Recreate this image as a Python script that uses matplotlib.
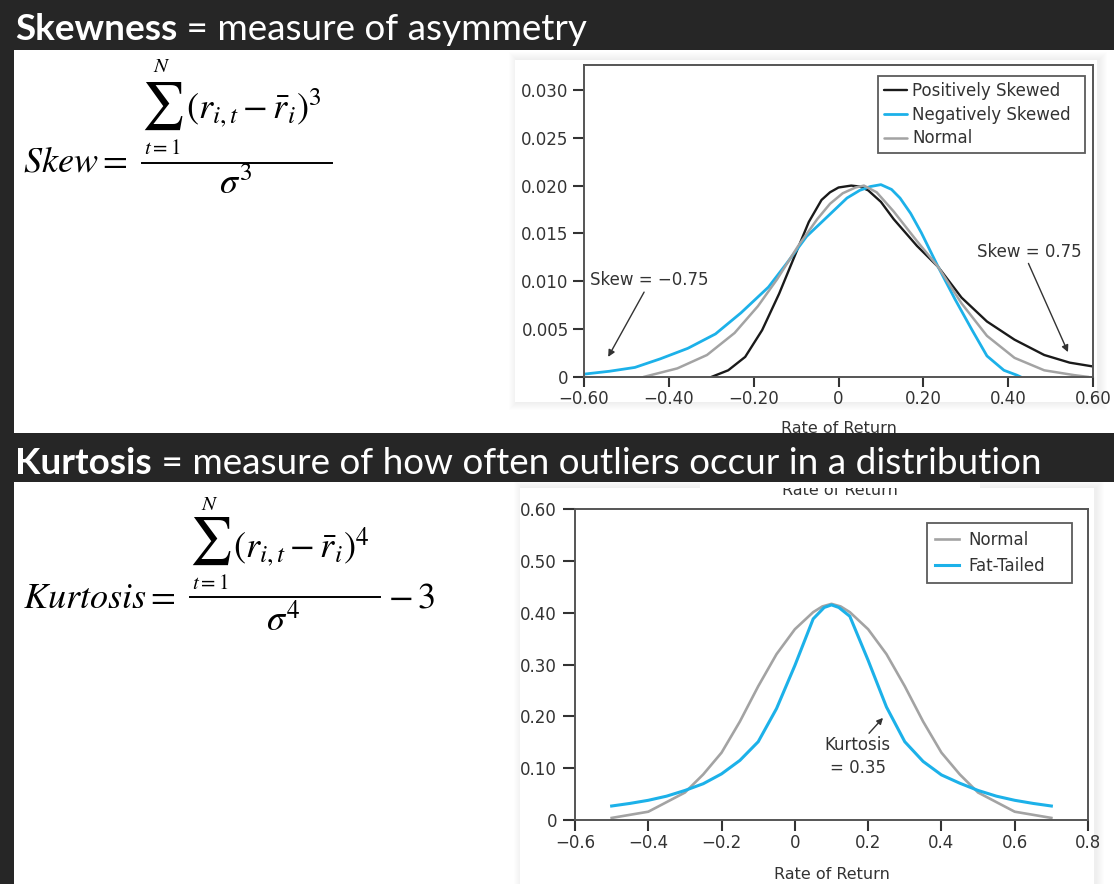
import matplotlib
matplotlib.use('Agg')
import matplotlib.pyplot as plt
from matplotlib.patches import Rectangle
from matplotlib.lines import Line2D

# ---------------- data ----------------
skew_xticks = [-0.60, -0.40, -0.20, 0.0, 0.20, 0.40, 0.60]
skew_xlabels = ['\u22120.60', '\u22120.40', '\u22120.20', '0', '0.20', '0.40', '0.60']
skew_yticks = [0.0, 0.005, 0.010, 0.015, 0.020, 0.025, 0.030]
skew_ylabels = ['0', '0.005', '0.010', '0.015', '0.020', '0.025', '0.030']

pos_x = [-0.30, -0.26, -0.22, -0.18, -0.14, -0.10, -0.07, -0.04, -0.02, 0.00, 0.03, 0.05, 0.07,
         0.10, 0.13, 0.185, 0.235, 0.29, 0.35, 0.415, 0.485, 0.545, 0.60]
pos_y = [0.0, 0.0007, 0.0021, 0.0049, 0.0087, 0.0130, 0.0162, 0.0185, 0.0193, 0.0198, 0.0200, 0.0199, 0.0195,
         0.0183, 0.0165, 0.0137, 0.0115, 0.0083, 0.0058, 0.0039, 0.0023, 0.0015, 0.0011]

neg_x = [-0.60, -0.54, -0.48, -0.42, -0.355, -0.29, -0.23, -0.165, -0.12, -0.075, -0.025,
         0.02, 0.05, 0.075, 0.10, 0.125, 0.145, 0.17, 0.195, 0.235, 0.275, 0.315, 0.35, 0.39, 0.42, 0.43]
neg_y = [0.0003, 0.0006, 0.0010, 0.0019, 0.0030, 0.0045, 0.0067, 0.0094, 0.0120, 0.0147, 0.0168,
         0.0187, 0.0195, 0.0199, 0.0201, 0.0196, 0.0187, 0.0171, 0.0151, 0.0115, 0.0081, 0.0049,
         0.0022, 0.0007, 0.0002, 0.0]

norm_x = [-0.46, -0.38, -0.31, -0.245, -0.19, -0.145, -0.095, -0.05, -0.02, 0.01, 0.04, 0.06,
          0.09, 0.13, 0.185, 0.235, 0.29, 0.35, 0.415, 0.485, 0.555, 0.59]
norm_y = [0.0, 0.0009, 0.0023, 0.0046, 0.0074, 0.0102, 0.0137, 0.0165, 0.0181, 0.0192, 0.0198, 0.0200,
          0.0193, 0.0173, 0.0142, 0.0115, 0.0077, 0.0043, 0.0020, 0.0007, 0.0002, 0.0]

kurt_xticks = [-0.6, -0.4, -0.2, 0.0, 0.2, 0.4, 0.6, 0.8]
kurt_xlabels = ['\u22120.6', '\u22120.4', '\u22120.2', '0', '0.2', '0.4', '0.6', '0.8']
kurt_yticks = [0.0, 0.10, 0.20, 0.30, 0.40, 0.50, 0.60]
kurt_ylabels = ['0', '0.10', '0.20', '0.30', '0.40', '0.50', '0.60']

kn_x = [-0.50, -0.40, -0.30, -0.25, -0.20, -0.15, -0.10, -0.05, 0.00, 0.05, 0.075, 0.10,
        0.125, 0.15, 0.20, 0.25, 0.30, 0.35, 0.40, 0.45, 0.50, 0.60, 0.70]
kn_y = [0.004, 0.016, 0.053, 0.088, 0.130, 0.190, 0.258, 0.320, 0.368, 0.401, 0.412, 0.417,
        0.412, 0.401, 0.368, 0.320, 0.258, 0.190, 0.130, 0.088, 0.053, 0.016, 0.004]

kf_x = [-0.50, -0.45, -0.40, -0.35, -0.30, -0.25, -0.20, -0.15, -0.10, -0.05, 0.00, 0.05, 0.08,
        0.10, 0.12, 0.15, 0.20, 0.25, 0.30, 0.35, 0.40, 0.45, 0.50, 0.55, 0.60, 0.65, 0.70]
kf_y = [0.027, 0.032, 0.038, 0.046, 0.057, 0.070, 0.089, 0.115, 0.151, 0.215, 0.298, 0.388, 0.410,
        0.415, 0.410, 0.393, 0.308, 0.218, 0.151, 0.113, 0.087, 0.071, 0.057, 0.046, 0.038, 0.032, 0.027]

# ---------------- figure ----------------
W, H = 1114, 884
fig = plt.figure(figsize=(W / 100, H / 100), dpi=100, facecolor='white')
plt.rcParams['mathtext.fontset'] = 'stix'


def fx(px):
    return px / W


def fy(py):
    return 1 - py / H


DARK = '#262626'
BLUE = '#1cb1e9'
GRAY = '#a3a3a3'
BLACK = '#1a1a1a'
TXT = '#333333'
CHART_FONT = 'DejaVu Sans'


def card(x0, y0, x1, y1):
    # white chart card with a faint soft shadow (pixel coords, y down)
    for i in range(8, 0, -1):
        r = Rectangle((fx(x0 - i + 2), fy(y1 + i)), (x1 - x0 + 2 * i) / W, (y1 - y0 + 2 * i) / H,
                      transform=fig.transFigure, facecolor='black', alpha=0.007,
                      edgecolor='none', zorder=-2)
        fig.add_artist(r)
    fig.add_artist(Rectangle((fx(x0), fy(y1)), (x1 - x0) / W, (y1 - y0) / H,
                             transform=fig.transFigure, facecolor='white',
                             edgecolor='none', zorder=-1))


def style_axes(ax, ylen, ypad, xlen, xpad):
    for s in ax.spines.values():
        s.set_color('#555555')
        s.set_linewidth(1.4)
    ax.tick_params(axis='y', direction='out', length=ylen, width=1.5, color=TXT,
                   labelsize=12, labelcolor=TXT, pad=ypad)
    ax.tick_params(axis='x', direction='out', length=xlen, width=1.5, color=TXT,
                   labelsize=12, labelcolor=TXT, pad=xpad)
    for lab in ax.get_xticklabels() + ax.get_yticklabels():
        lab.set_family(CHART_FONT)


# ---- top chart (skewness) ----
card(515, 60, 1097, 402)
ax1 = fig.add_axes([fx(584), fy(377), (1093 - 584) / W, (377 - 65) / H])
ax1.plot(pos_x, pos_y, color=BLACK, lw=1.7, label='Positively Skewed', solid_capstyle='round')
ax1.plot(neg_x, neg_y, color=BLUE, lw=2.0, label='Negatively Skewed', solid_capstyle='round')
ax1.plot(norm_x, norm_y, color=GRAY, lw=1.8, label='Normal', solid_capstyle='round')
ax1.set_xlim(-0.6, 0.6)
ax1.set_ylim(0, 0.0326)
ax1.set_xticks(skew_xticks)
ax1.set_xticklabels(skew_xlabels)
ax1.set_yticks(skew_yticks)
ax1.set_yticklabels(skew_ylabels)
style_axes(ax1, 8, 3, 7, 2)
ax1.set_xlabel('Rate of Return', fontsize=11.5, color=TXT, labelpad=10, family=CHART_FONT)
leg1 = ax1.legend(loc='upper left', bbox_to_anchor=(0.578, 0.5, 0.407, 0.465), mode='expand',
                  frameon=True, fancybox=False, edgecolor='#333333', borderpad=0.35,
                  handlelength=1.4, handletextpad=0.3, labelspacing=0.35, borderaxespad=0,
                  prop={'family': CHART_FONT, 'size': 12})
leg1.get_frame().set_linewidth(1.3)
for t in leg1.get_texts():
    t.set_color(TXT)

ax1.annotate('Skew = \u22120.75', xy=(-0.543, 0.0021), xytext=(-0.586, 0.0101),
             fontsize=12, color=TXT, va='center', ha='left', family=CHART_FONT,
             arrowprops=dict(arrowstyle='-|>', color=TXT, lw=1.0, mutation_scale=10,
                             shrinkA=0, shrinkB=0, relpos=(0.47, 0.0)))
ax1.annotate('Skew = 0.75', xy=(0.541, 0.0026), xytext=(0.3265, 0.0131),
             fontsize=12, color=TXT, va='center', ha='left', family=CHART_FONT,
             arrowprops=dict(arrowstyle='-|>', color=TXT, lw=1.0, mutation_scale=10,
                             shrinkA=0, shrinkB=0, relpos=(0.48, 0.0)))

# ---- bottom chart (kurtosis) ----
card(520, 488, 1094, 884)
ax2 = fig.add_axes([fx(575), fy(820), 513 / W, 311 / H])
ax2.plot(kn_x, kn_y, color=GRAY, lw=1.9, label='Normal')
ax2.plot(kf_x, kf_y, color=BLUE, lw=2.2, label='Fat-Tailed')
ax2.set_xlim(-0.6, 0.8)
ax2.set_ylim(0, 0.60)
ax2.set_xticks(kurt_xticks)
ax2.set_xticklabels(kurt_xlabels)
ax2.set_yticks(kurt_yticks)
ax2.set_yticklabels(kurt_ylabels)
style_axes(ax2, 9, 4, 8, 2)
ax2.set_xlabel('Rate of Return', fontsize=11.5, color=TXT, labelpad=11, family=CHART_FONT)
leg2 = ax2.legend(loc='upper left', bbox_to_anchor=(0.686, 0.5, 0.283, 0.455), mode='expand',
                  frameon=True, fancybox=False, edgecolor='#333333', borderpad=0.5,
                  handlelength=1.4, handletextpad=0.6, labelspacing=0.45, borderaxespad=0,
                  prop={'family': CHART_FONT, 'size': 12})
leg2.get_frame().set_linewidth(1.3)
for t in leg2.get_texts():
    t.set_color(TXT)
ax2.annotate('Kurtosis\n= 0.35', xy=(0.2405, 0.197), xytext=(0.172, 0.1225),
             fontsize=12, color=TXT, va='center', ha='center', linespacing=1.35,
             family=CHART_FONT,
             arrowprops=dict(arrowstyle='-|>', color=TXT, lw=1.0, mutation_scale=9,
                             shrinkA=0, shrinkB=0, relpos=(0.63, 1.0)))

# remnant label at the top of the lower panel (its top is cut off)
fig.text(fx(840), fy(495), 'Rate of Return', fontsize=11.5, color=TXT, ha='center',
         va='baseline', family=CHART_FONT, zorder=0.5)
fig.add_artist(Rectangle((fx(700), fy(488)), 280 / W, 6 / H, transform=fig.transFigure,
                         facecolor='white', edgecolor='none', zorder=0.8))

# ---------------- dark bands ----------------
for (x0, y0, x1, y1) in [(0, 0, W, 50), (0, 433, W, 482), (0, 0, 14, H)]:
    fig.add_artist(Rectangle((fx(x0), fy(y1)), (x1 - x0) / W, (y1 - y0) / H,
                             transform=fig.transFigure, facecolor=DARK, edgecolor='none',
                             zorder=1))

TITLE_FONT = 'Lato'
TS = 26.6

fig.canvas.draw()
renderer = fig.canvas.get_renderer()


def two_part_title(px, py, bold, rest):
    t1 = fig.text(fx(px), fy(py), bold, fontsize=TS, weight='bold', color='white',
                  family=TITLE_FONT, va='baseline', ha='left', zorder=2)
    bb = t1.get_window_extent(renderer)
    fig.text(bb.x1 / W, fy(py), rest, fontsize=TS, color='white', family=TITLE_FONT,
             va='baseline', ha='left', zorder=2)


two_part_title(15, 40, 'Skewness', ' = measure of asymmetry')
two_part_title(15, 474, 'Kurtosis', ' = measure of how often outliers occur in a distribution')


# ---------------- formulas (assembled from pieces) ----------------
def ftext(px, py, s, size, ha='left', va='baseline'):
    fig.text(fx(px), fy(py), s, fontsize=size, color='black', ha=ha, va=va, zorder=2)


def formula(lhs, lhs_base, sig_cx, sig_cy, n_cy, t_cy, num_x, num_base,
            bar_x0, bar_x1, bar_y, den_cx, den_base, power, tail=None):
    ftext(23, lhs_base, lhs, 26)
    ftext(sig_cx, sig_cy, r'$\sum$', 34, ha='center', va='center')
    ftext(sig_cx, n_cy, r'$N$', 15, ha='center', va='center')
    ftext(sig_cx, t_cy, r'$t=1$', 15, ha='center', va='center')
    ftext(num_x, num_base, r'$\left(r_{i,t}-\bar{r}_i\right)^{%s}$' % power, 26)
    fig.add_artist(Line2D([fx(bar_x0), fx(bar_x1)], [fy(bar_y), fy(bar_y)],
                          transform=fig.transFigure, color='black', lw=1.4, zorder=2))
    ftext(den_cx, den_base, r'$\sigma^{%s}$' % power, 26, ha='center')
    if tail is not None:
        ftext(tail[0], tail[1], tail[2], 26)


formula(r'$Skew =$', 172, 162, 106, 66, 148, 186, 119,
        142, 332, 163, 236, 194, '3')
formula(r'$Kurtosis =$', 608, 210, 541, 504, 583, 233, 558,
        190, 380, 597, 283, 631, '4', tail=(388, 608, r'$-\,3$'))

fig.savefig('out.png', dpi=100, facecolor='white')
